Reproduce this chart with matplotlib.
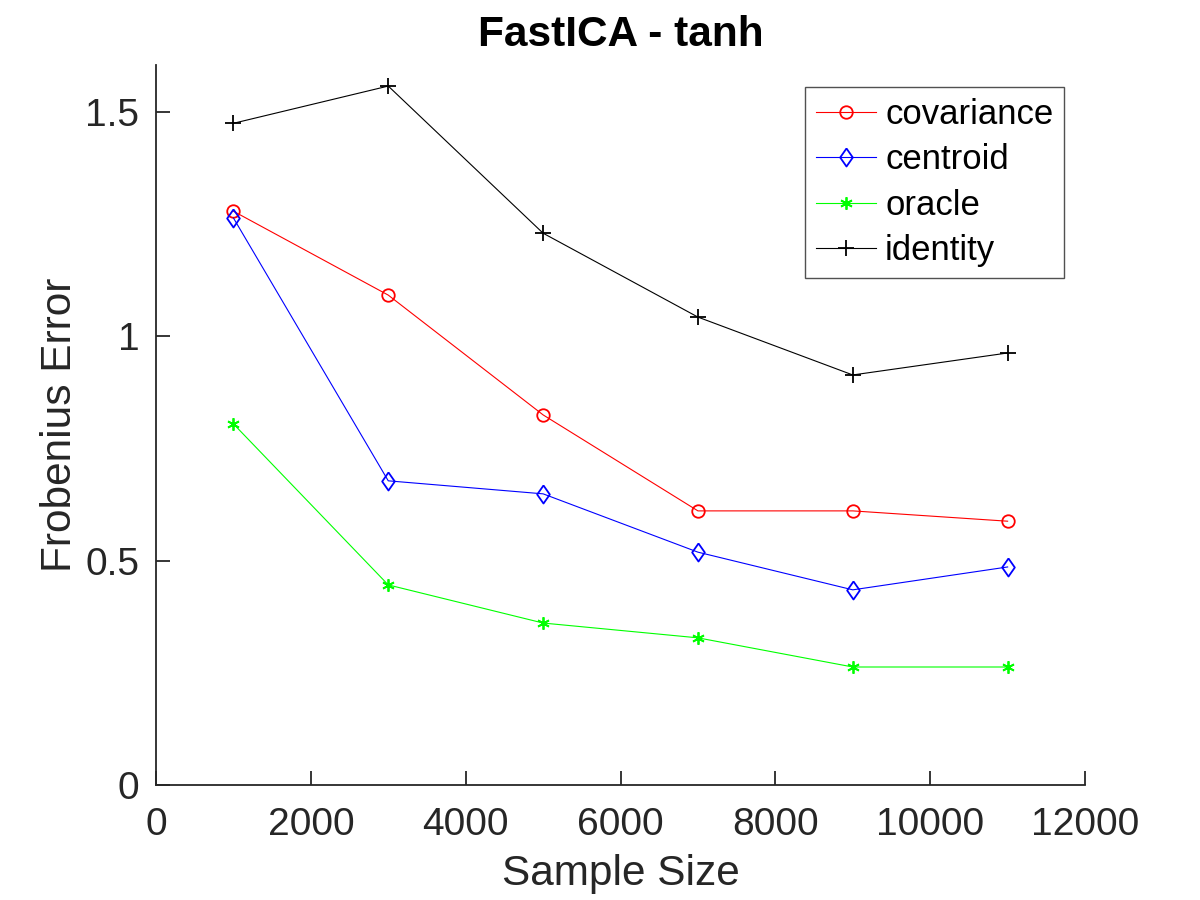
import numpy as np
import matplotlib
matplotlib.use('Agg')
import matplotlib.pyplot as plt

matplotlib.rcParams['font.family'] = ['Liberation Sans', 'DejaVu Sans']

# dados
sample_size = [1000, 3000, 5000, 7000, 9000, 11000]
covariance = [1.279, 1.092, 0.825, 0.611, 0.611, 0.588]
centroid = [1.264, 0.678, 0.649, 0.519, 0.435, 0.486]
oracle = [0.805, 0.446, 0.361, 0.328, 0.263, 0.263]
identity = [1.475, 1.558, 1.230, 1.043, 0.914, 0.963]

cinza = (0.15, 0.15, 0.15)
# losango estilo MATLAB (mais alto que largo)
losango = [(0, 1), (0.7, 0), (0, -1), (-0.7, 0), (0, 1)]

fig = plt.figure(figsize=(12, 9), dpi=100)
ax = fig.add_axes([0.13, 0.1278, 0.7742, 0.8])

ax.plot(sample_size, covariance, color='red', lw=0.8, marker='o', ms=9,
        mfc='none', mec='red', mew=1.3, label='covariance')
ax.plot(sample_size, centroid, color='blue', lw=0.8, marker=losango, ms=13,
        mfc='none', mec='blue', mew=1.3, label='centroid')
ax.plot(sample_size, oracle, color=(0, 1, 0), lw=0.8, marker=(6, 2, 0), ms=9,
        mec=(0, 1, 0), mew=1.3, label='oracle')
ax.plot(sample_size, identity, color='black', lw=0.8, marker='+', ms=11,
        mew=1.3, label='identity')

ax.set_xlim(0, 12000)
ax.set_ylim(0, 1.605)
ax.set_xticks([0, 2000, 4000, 6000, 8000, 10000, 12000])
ax.set_yticks([0, 0.5, 1, 1.5])
ax.set_yticklabels(['0', '0.5', '1', '1.5'])

for s in ['top', 'right']:
    ax.spines[s].set_visible(False)
for s in ['left', 'bottom']:
    ax.spines[s].set_color(cinza)
    ax.spines[s].set_linewidth(1.3)

ax.tick_params(direction='in', length=10, width=1.3, colors=cinza,
               labelsize=28)
ax.tick_params(axis='x', pad=16)
ax.tick_params(axis='y', pad=12)

ax.set_xlabel('Sample Size', fontsize=30.5, color=cinza, labelpad=8)
ax.set_ylabel('Frobenius Error', fontsize=30.5, color=cinza, labelpad=4)
ax.set_title('FastICA - tanh', fontsize=30.5, fontweight='bold', pad=14)

leg = ax.legend(loc='upper right', bbox_to_anchor=(0.977, 0.969),
                borderaxespad=0, fontsize=25, fancybox=False,
                edgecolor=cinza, handlelength=1.75, handletextpad=0.25,
                labelspacing=0.36, borderpad=0.3)
leg.get_frame().set_linewidth(1.0)

fig.savefig('out.png', dpi=100)
